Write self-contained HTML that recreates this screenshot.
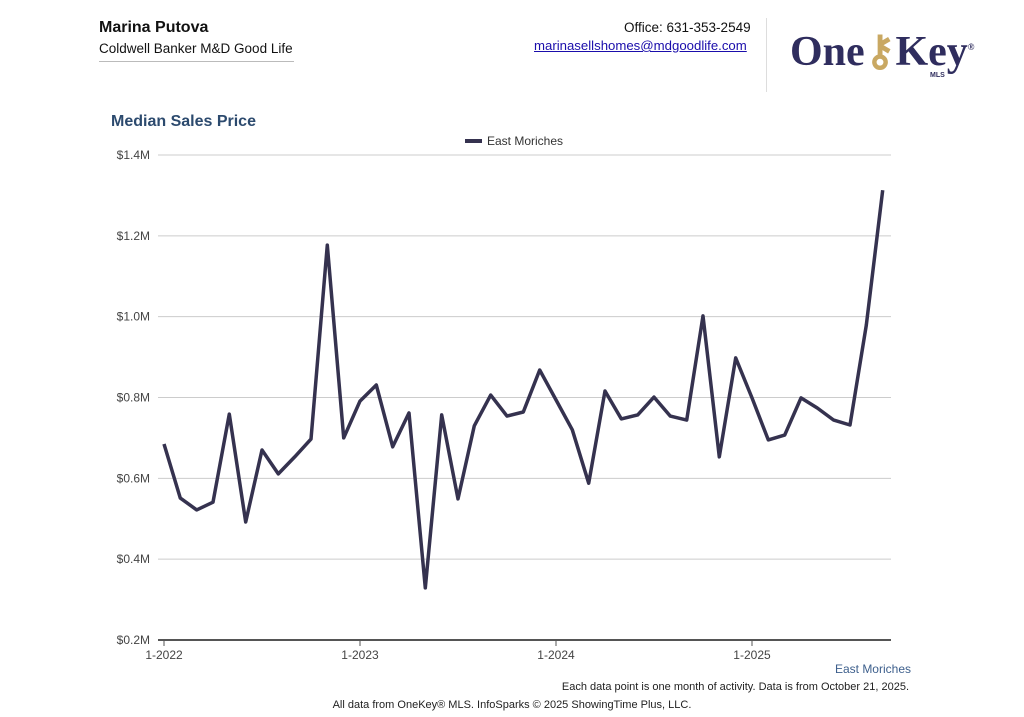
<!DOCTYPE html>
<html><head><meta charset="utf-8">
<style>
body{margin:0;width:1024px;height:717px;background:#fff;font-family:"Liberation Sans",Arial,sans-serif;position:relative;overflow:hidden}
.a{position:absolute;white-space:nowrap}
</style></head><body>
<div class="a" style="left:99px;top:19px;font-size:16px;font-weight:bold;color:#111">Marina Putova</div>
<div class="a" style="left:99px;top:41px;font-size:13.5px;color:#111">Coldwell Banker M&amp;D Good Life</div>
<div class="a" style="left:99px;top:61px;width:195px;height:1px;background:#bbb"></div>
<div class="a" style="left:624px;top:20px;font-size:13.5px;color:#111">Office: 631-353-2549</div>
<a class="a" style="left:534px;top:38px;font-size:13.2px;color:#1a0dab;text-decoration:underline">marinasellshomes@mdgoodlife.com</a>
<div class="a" style="left:766px;top:18px;width:1px;height:74px;background:#ddd"></div>
<div class="a" style="left:790px;top:26px;font-family:'Liberation Serif',serif;font-weight:bold;font-size:42px;color:#2f2d5e">One<span style="color:#c9a862">⚷</span>Key<sup style="font-size:9px">®</sup></div>
<div class="a" style="left:930px;top:72px;font-size:7px;font-weight:bold;color:#2f2d5e">MLS</div>
<div class="a" style="left:111px;top:113px;font-size:16px;font-weight:bold;color:#2c4a6e">Median Sales Price</div>
<svg class="a" style="left:0;top:0" width="1024" height="717">
<g id="grid"></g><g id="ticks"></g>
<line x1="465" y1="141" x2="482" y2="141" stroke="#35324f" stroke-width="4"/>
<text x="487" y="145" font-size="12" fill="#333">East Moriches</text>
<path id="line" fill="none" stroke="#35324f" stroke-width="3.5" stroke-linejoin="round"/>
<text x="911" y="673" font-size="12" fill="#3d5f8c" text-anchor="end">East Moriches</text>
<text x="909" y="690" font-size="11" fill="#222" text-anchor="end">Each data point is one month of activity. Data is from October 21, 2025.</text>
<text x="512" y="708" font-size="11" fill="#222" text-anchor="middle">All data from OneKey® MLS. InfoSparks © 2025 ShowingTime Plus, LLC.</text>
</svg>
<script>
const values=[0.685,0.551,0.522,0.541,0.759,0.492,0.670,0.611,0.653,0.697,1.177,0.700,0.791,0.831,0.678,0.762,0.329,0.757,0.549,0.730,0.806,0.754,0.764,0.868,0.794,0.720,0.588,0.816,0.747,0.757,0.801,0.754,0.744,1.002,0.653,0.898,0.799,0.695,0.707,0.799,0.774,0.744,0.732,0.979,1.313];
const yTicks=[0.2,0.4,0.6,0.8,1.0,1.2,1.4];
const yTickLabels=["$0.2M","$0.4M","$0.6M","$0.8M","$1.0M","$1.2M","$1.4M"];
const xTickIdx=[0,12,24,36];
const xTickLabels=["1-2022","1-2023","1-2024","1-2025"];
const X=i=>164+i*16.333, Y=v=>640-(v-0.2)/1.2*485;
const ns="http://www.w3.org/2000/svg";
const g=document.getElementById('grid'),t=document.getElementById('ticks');
function mk(p,tag,a){const e=document.createElementNS(ns,tag);for(const k in a)e.setAttribute(k,a[k]);p.appendChild(e);return e;}
yTicks.forEach((v,i)=>{
 const l=mk(g,'line',{x1:158,x2:891,y1:Y(v),y2:Y(v),stroke:i?'#ccc':'#555','stroke-width':i?1:2});
 
 
 const tx=mk(t,'text',{x:150,y:Y(v)+4,'font-size':12,fill:'#444','text-anchor':'end'});tx.textContent=yTickLabels[i];
 
 
});
xTickIdx.forEach((idx,i)=>{
 mk(t,'line',{x1:X(idx),x2:X(idx),y1:640,y2:646,stroke:'#555'});
 const tx=mk(t,'text',{x:X(idx),y:659,'font-size':12,fill:'#444','text-anchor':'middle'});tx.textContent=xTickLabels[i];
 
 
});
document.getElementById('line').setAttribute('d',values.map((v,i)=>(i?'L':'M')+X(i).toFixed(1)+','+Y(v).toFixed(1)).join(''));
</script>
</body></html>
